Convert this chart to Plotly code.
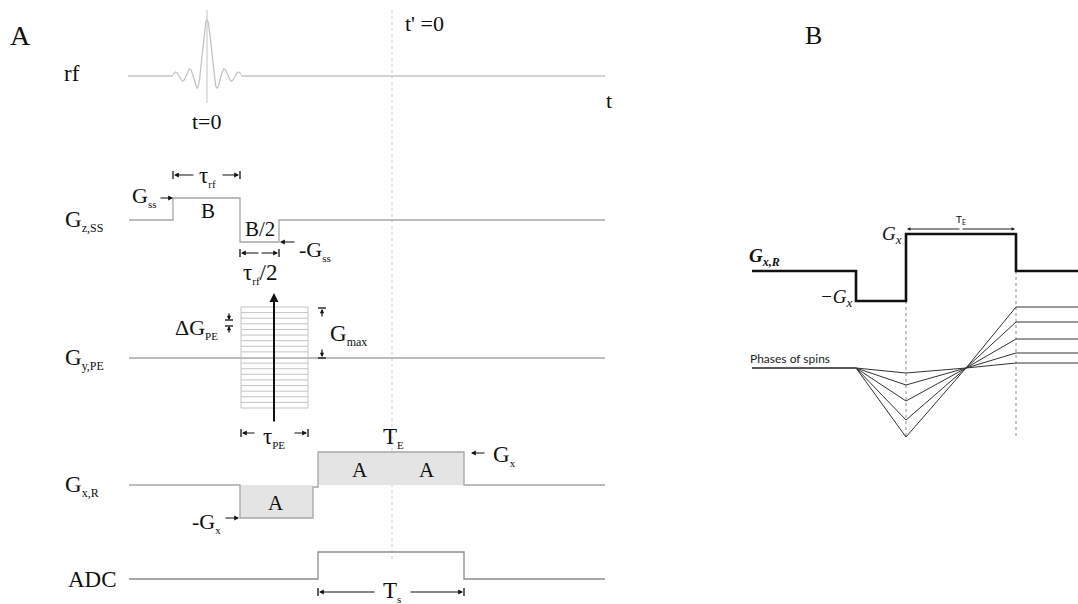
import numpy as np
import plotly.graph_objects as go

# ---------------- data (diagram units = pixels of a 1078 x 604 canvas) ----------------
W, H = 1078, 604

# rf channel
rf_x_range = [128, 605]
rf_base_y = 76
rf_center = 207
rf_peak = 56
rf_zero_spacing = 7.0
rf_half_width = 34

# slice-select gradient G_z,SS
gz_x = [129, 173, 173, 240, 240, 279, 279, 605]
gz_y = [220, 220, 198, 198, 242, 242, 220, 220]

# phase-encode gradient G_y,PE
gy_base_y = 358
gy_x_range = [129, 605]
pe_x = [241, 308]
pe_top, pe_bottom = 307, 408
pe_n_steps = 18
pe_arrow_x = 274
pe_arrow_y = [423, 293]

# readout gradient G_x,R
gx_x = [129, 240, 240, 313, 313, 318, 318, 464, 464, 605]
gx_y = [485, 485, 518, 518, 487, 487, 452, 452, 485, 485]
gx_neg_lobe_x = [240, 313, 313, 240, 240]
gx_neg_lobe_y = [485, 485, 518, 518, 485]
gx_pos_lobe_x = [318, 464, 464, 318, 318]
gx_pos_lobe_y = [452, 452, 485, 485, 452]

# ADC
adc_x = [129, 318, 318, 464, 464, 605]
adc_y = [579, 579, 552, 552, 579, 579]

echo_x = 392
echo_y = [10, 562]

# panel B
b_gx_x = [752, 856, 856, 906, 906, 1016, 1016, 1078]
b_gx_y = [271, 271, 301, 301, 234, 234, 271, 271]
phase_knots_x = [752, 856, 906, 966, 1016, 1078]
phase_base = 368
phase_dip = [373, 385, 401, 420, 437]
phase_end = [363, 353, 339, 322, 307]
b_dotted_x = [906, 1016]
b_dotted_top = [301, 271]
b_dotted_bottom = 437

SERIF = "Liberation Serif"
GRAY = "#a6a6a6"
LIGHT = "#c4c4c4"

fig = go.Figure()


def line(x, y, color=GRAY, width=1.3, dash="solid", fill=None, fillcolor=None):
    kw = dict(x=x, y=y, mode="lines", line=dict(color=color, width=width, dash=dash),
              hoverinfo="skip", showlegend=False)
    if fill:
        kw.update(fill=fill, fillcolor=fillcolor)
    fig.add_trace(go.Scatter(**kw))


annotations = []


def sub(s, size=12):
    return "<sub><span style='font-size:%dpx'>%s</span></sub>" % (size, s)


def text(x, y, s, size=22, anchor="center", color="#111", font=SERIF, yanchor="middle"):
    annotations.append(dict(x=x, y=y, xref="x", yref="y", text=s, showarrow=False,
                            xanchor=anchor, yanchor=yanchor,
                            font=dict(family=font, size=size, color=color)))


def arrow(x0, y0, x1, y1, color="#111", width=1.2, head=2, size=1.0):
    annotations.append(dict(x=x1, y=y1, ax=x0, ay=y0, xref="x", yref="y", axref="x", ayref="y",
                            text="", showarrow=True, arrowhead=head, arrowsize=size,
                            arrowwidth=width, arrowcolor=color))


def bars(xs, ys, half=4, vertical=True, color="#111"):
    bx, byy = [], []
    for x, y in zip(xs, ys):
        if vertical:
            bx += [x, x, None]
            byy += [y - half, y + half, None]
        else:
            bx += [x - half, x + half, None]
            byy += [y, y, None]
    line(bx, byy, color=color, width=1.3)


# ---------------- panel A ----------------
line([rf_x_range[0], rf_center - rf_half_width], [rf_base_y, rf_base_y], color=LIGHT)
xs = np.linspace(rf_center - rf_half_width, rf_center + rf_half_width, 400)
ys = rf_base_y - rf_peak * np.sinc((xs - rf_center) / rf_zero_spacing)
line(xs, ys, color=LIGHT, width=1.3)
line([rf_center + rf_half_width, rf_x_range[1]], [rf_base_y, rf_base_y], color=LIGHT)
line([rf_center, rf_center], [10, 103], color=LIGHT, width=1)

line([echo_x, echo_x], echo_y, color="#cfcfcf", width=1, dash="dot")

line(gz_x, gz_y)

line(gy_x_range, [gy_base_y, gy_base_y])
hx, hy = [], []
for i in range(pe_n_steps + 1):
    yy = pe_top + i * (pe_bottom - pe_top) / pe_n_steps
    hx += [pe_x[0], pe_x[1], None]
    hy += [yy, yy, None]
line(hx, hy, color=LIGHT, width=1)
line([pe_x[0], pe_x[0], None, pe_x[1], pe_x[1]], [pe_top, pe_bottom, None, pe_top, pe_bottom],
     color=LIGHT, width=1)
arrow(pe_arrow_x, pe_arrow_y[0], pe_arrow_x, pe_arrow_y[1], width=2, size=0.9)

line(gx_neg_lobe_x, gx_neg_lobe_y, color="rgba(0,0,0,0)", width=0, fill="toself", fillcolor="#e4e4e4")
line(gx_pos_lobe_x, gx_pos_lobe_y, color="rgba(0,0,0,0)", width=0, fill="toself", fillcolor="#e4e4e4")
line(gx_x, gx_y)

line(adc_x, adc_y, color="#8c8c8c")

# ---- labels panel A ----
text(20, 35, "A", size=28)
text(813, 35, "B", size=26)
text(72, 73, "rf", size=23)
text(207, 121, "t=0", size=22)
text(403, 23, "t' =0", size=22, anchor="left")
text(609, 100, "t", size=22)

text(63, 221, "G" + sub("z,SS"), size=23, anchor="left")
text(63, 359, "G" + sub("y,PE"), size=23, anchor="left")
text(63, 486, "G" + sub("x,R"), size=23, anchor="left")
text(66, 579, "ADC", size=23, anchor="left")

text(208, 211, "B", size=21)
text(260, 229, "B/2", size=21)
text(158, 196, "G" + sub("ss", 11), size=22, anchor="right")
arrow(159, 198, 173, 198, size=0.8)
arrow(296, 242, 280, 242, size=0.8)
text(297, 250, "-G" + sub("ss", 11), size=22, anchor="left")
arrow(195, 175, 174, 175, size=0.8)
arrow(221, 175, 239, 175, size=0.8)
bars([173, 240], [175, 175])
text(207, 176, "τ" + sub("rf", 11), size=23)
arrow(260, 253, 241, 253, size=0.8)
arrow(260, 253, 278, 253, size=0.8)
bars([240, 279], [253, 253])
text(260, 273, "τ" + sub("rf", 11) + "/2", size=23)

text(220, 328, "ΔG" + sub("PE", 11), size=22, anchor="right")
arrow(229, 312, 229, 320, size=0.7)
arrow(229, 334, 229, 326, size=0.7)
bars([229, 229], [320, 326], vertical=False, half=4)
arrow(322, 318, 322, 309, size=0.7)
arrow(322, 348, 322, 357, size=0.7)
bars([322, 322], [308, 358], vertical=False, half=4)
text(328, 335, "G" + sub("max", 12), size=23, anchor="left")
arrow(256, 433, 242, 433, size=0.8)
arrow(293, 433, 307, 433, size=0.8)
bars([241, 308], [433, 433])
text(274, 437, "τ" + sub("PE", 11), size=23)

text(393, 437, "T" + sub("E", 11), size=23)
text(276, 503, "A", size=21)
text(360, 470, "A", size=21)
text(427, 470, "A", size=21)
text(223, 522, "-G" + sub("x", 11), size=22, anchor="right")
arrow(224, 518, 239, 518, size=0.8)
arrow(486, 453, 471, 453, size=0.8)
text(491, 455, "G" + sub("x", 11), size=23, anchor="left")

arrow(376, 592, 319, 592, size=0.8)
arrow(409, 592, 463, 592, size=0.8)
bars([318, 464], [592, 592])
text(392, 591, "T" + sub("s", 11), size=23)

# ---------------- panel B ----------------
for xd, yt in zip(b_dotted_x, b_dotted_top):
    line([xd, xd], [yt, b_dotted_bottom], color="#8a8a8a", width=1, dash="dot")

line(phase_knots_x[:2], [phase_base, phase_base], color="#222", width=1.5)
for d, e in zip(phase_dip, phase_end):
    line(phase_knots_x[1:], [phase_base, d, phase_base, e, e], color="#333", width=1)

line(b_gx_x, b_gx_y, color="#111", width=2.6)

text(747, 257, "<b><i>G" + sub("x,R", 12) + "</i></b>", size=19, anchor="left")
text(855, 298, "<i>−G" + sub("x", 13) + "</i>", size=19, anchor="right")
text(904, 235, "<i>G" + sub("x", 13) + "</i>", size=19, anchor="right")
arrow(961, 229, 907, 229, color="#222", width=1, size=0.7)
arrow(961, 229, 1015, 229, color="#222", width=1, size=0.7)
text(961, 219, "T" + sub("E", 7), size=10, font="Lato")
text(748, 358, "Phases of spins", size=12, anchor="left", font="Lato", color="#222")

fig.update_layout(
    width=W, height=H,
    margin=dict(l=0, r=0, t=0, b=0),
    paper_bgcolor="white", plot_bgcolor="white",
    xaxis=dict(range=[0, W], visible=False, fixedrange=True),
    yaxis=dict(range=[H, 0], visible=False, fixedrange=True),
    annotations=annotations,
    showlegend=False,
)
fig.write_html("out.html")
